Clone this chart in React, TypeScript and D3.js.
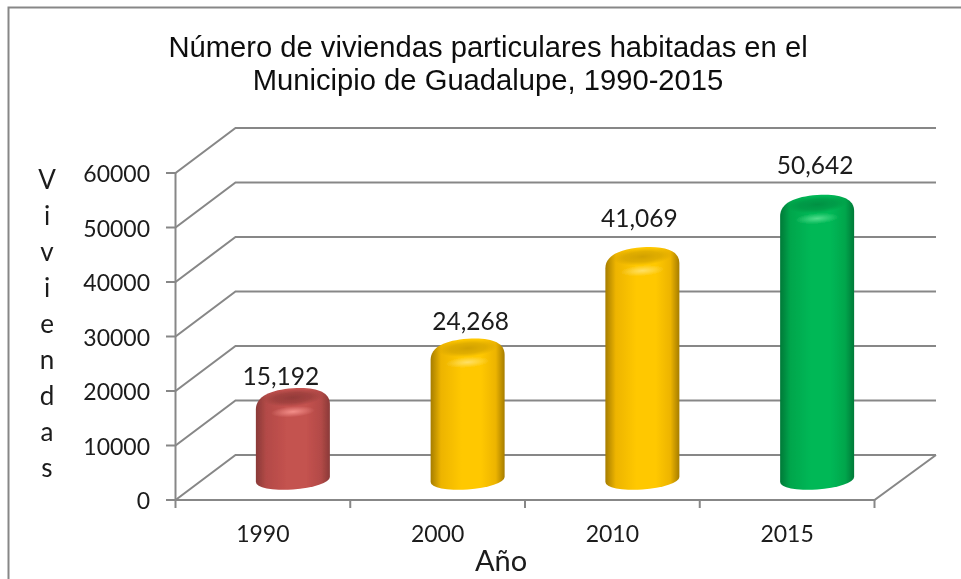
import React from "react";
import * as d3 from "d3";

const titleLines = ["Número de viviendas particulares habitadas en el", "Municipio de Guadalupe, 1990-2015"];
const years = ["1990", "2000", "2010", "2015"];
const viviendas = [15192, 24268, 41069, 50642];
const labelShiftX = [-12, 3, -3, -2];
const labelShiftY = [-12, -17, -29, -30];
const palette = [
  { base: "#c4524f", dark: "#8a3a38", mid: "#b34a47", light: "#ff9e98", cap: "#8a3735" },
  { base: "#ffc800", dark: "#a67d00", mid: "#edb400", light: "#ffe680", cap: "#c99a00" },
  { base: "#ffc800", dark: "#a67d00", mid: "#edb400", light: "#ffe680", cap: "#c99a00" },
  { base: "#00b856", dark: "#007a38", mid: "#00a64c", light: "#66e79a", cap: "#008a3f" },
];
const yTicks = [0, 10000, 20000, 30000, 40000, 50000, 60000];
const yTitle = "Viviendas".split("");

const W = 961, H = 579;
const depthX = 61, depthY = 45;
const x = d3.scaleBand<string>().domain(years).range([175.5, 874.5]);
const y = d3.scaleLinear().domain([0, 60000]).range([500, 173]);
const RX = 37;
const AXIS = "#878787";

export default function App() {
  const floorY = y(0);
  const base = floorY - 20.5;
  return (
    <svg width={W} height={H} viewBox={`0 0 ${W} ${H}`} style={{ position: "fixed", left: 0, top: 0, background: "#fff" }}>
      <defs>
        {palette.map((c, i) => (
          <React.Fragment key={i}>
            <linearGradient id={`side${i}`} x1="0" x2="1" y1="0" y2="0">
              <stop offset="0" stopColor={c.dark} />
              <stop offset="0.14" stopColor={c.mid} />
              <stop offset="0.42" stopColor={c.base} />
              <stop offset="0.68" stopColor={c.base} />
              <stop offset="0.88" stopColor={c.mid} />
              <stop offset="1" stopColor={c.dark} />
            </linearGradient>
            <radialGradient id={`glow${i}`}>
              <stop offset="0" stopColor={c.light} stopOpacity="0.8" />
              <stop offset="1" stopColor={c.light} stopOpacity="0" />
            </radialGradient>
            <radialGradient id={`cap${i}`}>
              <stop offset="0" stopColor={c.cap} stopOpacity="0.85" />
              <stop offset="0.6" stopColor={c.cap} stopOpacity="0.55" />
              <stop offset="1" stopColor={c.cap} stopOpacity="0" />
            </radialGradient>
          </React.Fragment>
        ))}
        <filter id="soft" x="-5%" y="-5%" width="110%" height="110%">
          <feGaussianBlur stdDeviation="0.5" />
        </filter>
      </defs>

      <g filter="url(#soft)">
        <path d={`M8.5,${H} V7.5 H${W}`} fill="none" stroke={AXIS} strokeWidth={2} />

        <text fontFamily="'Liberation Sans', Arial, sans-serif" fontSize={29.2} fill="#111" textAnchor="middle">
          {titleLines.map((t, i) => (
            <tspan key={i} x={488} y={57 + i * 33}>{t}</tspan>
          ))}
        </text>

        <g fill="none" stroke={AXIS} strokeWidth={2}>
          {yTicks.map((t) => (
            <path key={t} d={`M166,${y(t)} H175.5 L${175.5 + depthX - 1},${y(t) - depthY} H936`} />
          ))}
          <path d={`M175.5,${y(60000)} V${floorY + 8}`} />
          <path d={`M175.5,${floorY} H874.5 L936,${floorY - depthY}`} />
          {years.map((d) => (
            <path key={d} d={`M${x(d)! + x.bandwidth()},${floorY} v8`} />
          ))}
        </g>

        <g fontFamily="Lato, Carlito, sans-serif" fontSize={23} fill="#1a1a1a">
          {yTicks.map((t) => (
            <text key={t} x={150} y={y(t) + 9} textAnchor="end">{t}</text>
          ))}
          {years.map((d) => (
            <text key={d} x={x(d)! + x.bandwidth() / 2} y={542} textAnchor="middle">{d}</text>
          ))}
        </g>

        <g fontFamily="Lato, Carlito, sans-serif" fontSize={26} fill="#1a1a1a" textAnchor="middle">
          {yTitle.map((ch, i) => (
            <text key={i} x={47} y={189 + i * 36}>{ch}</text>
          ))}
          <text x={501} y={571} fontSize={29}>Año</text>
        </g>

        {years.map((d, i) => {
          const cx = x(d)! + x.bandwidth() / 2 + 30;
          const v = viviendas[i];
          const top = y(v) - 17.5;
          const bottom = base;
          const body =
            `M${-RX},${bottom} V${top + 7} C${-RX},${top - 6} -22,${top - 11.5} 0,${top - 11.5} ` +
            `C22,${top - 11.5} ${RX},${top - 6} ${RX},${top + 7} V${bottom} ` +
            `A${RX},10 0 0 1 ${-RX},${bottom} Z`;
          return (
            <g key={d}>
              <g transform={`translate(${cx},0) skewY(-4)`}>
                <path d={body} fill={`url(#side${i})`} />
                <ellipse cx={0} cy={top - 2} rx={30} ry={8.5} fill={`url(#cap${i})`} />
                <ellipse cx={0} cy={top + 12} rx={22} ry={5.5} fill={`url(#glow${i})`} />
              </g>
              <text
                x={cx + labelShiftX[i]}
                y={top - 11 + labelShiftY[i] + 8}
                textAnchor="middle"
                fontFamily="Lato, Carlito, sans-serif"
                fontSize={24.5}
                fill="#1a1a1a"
              >
                {d3.format(",")(v)}
              </text>
            </g>
          );
        })}
      </g>
    </svg>
  );
}
